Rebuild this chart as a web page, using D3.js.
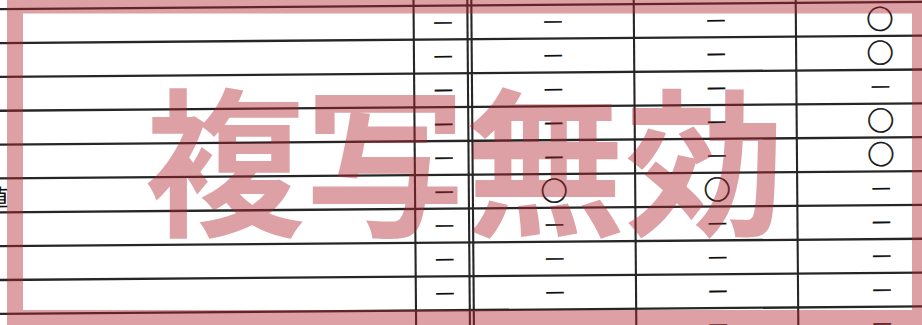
<!DOCTYPE html>
<html>
<head>
<meta charset="utf-8">
<script src="https://cdn.jsdelivr.net/npm/d3@7"></script>
<style>
  html, body { margin: 0; padding: 0; background: #fff; }
  svg { display: block; }
</style>
</head>
<body>
<svg id="chart" width="922" height="325"></svg>
<script>
const rows = ["1", "2", "3", "4", "5", "6", "7", "8", "9", "10"];
const columns = ["A", "B", "C", "D"];
const colA = ["—", "—", "—", "—", "—", "—", "—", "—", "—", "—"];
const colB = ["—", "—", "—", "—", "—", "○", "—", "—", "—", "—"];
const colC = ["—", "—", "—", "—", "—", "○", "—", "—", "—", "—"];
const colD = ["○", "○", "—", "○", "○", "—", "—", "—", "—", "—"];
const sideLabel = "値";
const watermark = "複写無効";

const W = 922, H = 325;
const svg = d3.select("#chart");

const marks = [];
[colA, colB, colC, colD].forEach((col, ci) => {
  col.forEach((v, ri) => marks.push({ col: columns[ci], row: rows[ri], v }));
});

// scales
const y = d3.scaleBand().domain(rows).range([5.5, 5.5 + 33.85 * rows.length]).padding(0);
const x = d3.scaleOrdinal().domain(columns).range([444, 554, 717, 881]);

// scanned page, slightly rotated
const page = svg.append("g")
  .attr("transform", `rotate(-0.46, ${W / 2}, ${H / 2})`);

const lineColor = "#262626";

// horizontal rules
const hLines = rows.map(r => y(r)).concat([y(rows[rows.length - 1]) + y.bandwidth()]);
page.selectAll("line.h").data(hLines).join("line")
  .attr("class", "h")
  .attr("x1", -20).attr("x2", W + 20)
  .attr("y1", d => d).attr("y2", d => d)
  .attr("stroke", lineColor).attr("stroke-width", 2.3);

// vertical rules
const vLines = [414.8, 468.6, 472.6, 635, 797];
page.selectAll("line.v").data(vLines).join("line")
  .attr("class", "v")
  .attr("x1", d => d).attr("x2", d => d)
  .attr("y1", -20).attr("y2", H + 20)
  .attr("stroke", lineColor).attr("stroke-width", 2.1);

// marks
const markY = r => y(r) + y.bandwidth() / 2 - 1.5;
page.selectAll("text.mark").data(marks).join("text")
  .attr("class", "mark")
  .attr("x", d => x(d.col))
  .attr("y", d => markY(d.row))
  .attr("text-anchor", "middle")
  .attr("dominant-baseline", "central")
  .attr("font-family", d => d.v === "○" ? "'Noto Sans CJK JP'" : "'DejaVu Sans'")
  .attr("font-weight", 400)
  .attr("font-size", d => d.v === "○" ? 27 : 19)
  .attr("fill", "#111")
  .attr("stroke", "#111")
  .attr("stroke-width", d => d.v === "○" ? 0.6 : 0.45)
  .text(d => d.v);

// partially cut label at left edge
page.append("text")
  .attr("x", 8).attr("y", 203)
  .attr("text-anchor", "end")
  .attr("font-family", "'Noto Sans CJK JP'")
  .attr("font-size", 24)
  .attr("fill", "#111")
  .text(sideLabel);

// ---- watermark overlay ----
const wmColor = "rgba(176, 34, 44, 0.43)";
const outer = { x0: 7, y0: -10, x1: 922 + 10, y1: 325 + 10 };
const inner = { x0: 23, y0: 13.5, x1: 912, y1: 310 };
const framePath = d3.path();
framePath.rect(outer.x0, outer.y0, outer.x1 - outer.x0, outer.y1 - outer.y0);
framePath.rect(inner.x0, inner.y0, inner.x1 - inner.x0, inner.y1 - inner.y0);
svg.append("path")
  .attr("d", framePath.toString())
  .attr("fill", wmColor)
  .attr("fill-rule", "evenodd");

svg.append("text")
  .attr("x", 465).attr("y", 224)
  .attr("text-anchor", "middle")
  .attr("font-family", "'Noto Sans CJK JP'")
  .attr("font-weight", 700)
  .attr("font-size", 160)
  .attr("fill", wmColor)
  .text(watermark);
</script>
</body>
</html>
